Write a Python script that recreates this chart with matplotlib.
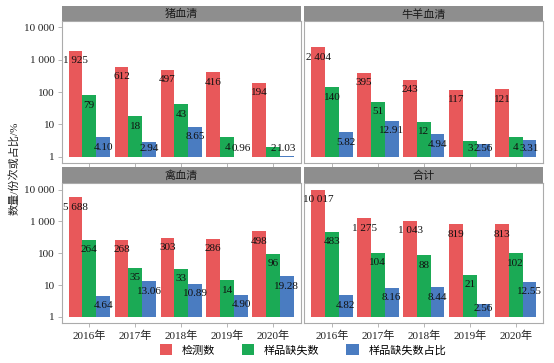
import numpy as np
import matplotlib
matplotlib.use("Agg")
import matplotlib.pyplot as plt
from matplotlib.patches import Patch

plt.rcParams['font.family'] = ['Liberation Serif', 'Noto Sans CJK SC', 'DejaVu Sans']

years = ["2016年", "2017年", "2018年", "2019年", "2020年"]
panels = ["猪血清", "牛羊血清", "禽血清", "合计"]
series = ["检测数", "样品缺失数", "样品缺失数占比"]
colors = ["#E8585A", "#1BAA55", "#4A7CC1"]

tested = {
    "猪血清": [1925, 612, 497, 416, 194],
    "牛羊血清": [2404, 395, 243, 117, 121],
    "禽血清": [5688, 268, 303, 286, 498],
    "合计": [10017, 1275, 1043, 819, 813],
}
missing = {
    "猪血清": [79, 18, 43, 4, 2],
    "牛羊血清": [140, 51, 12, 3, 4],
    "禽血清": [264, 35, 33, 14, 96],
    "合计": [483, 104, 88, 21, 102],
}
ratio = {
    "猪血清": [4.10, 2.94, 8.65, 0.96, 1.03],
    "牛羊血清": [5.82, 12.91, 4.94, 2.56, 3.31],
    "禽血清": [4.64, 13.06, 10.89, 4.90, 19.28],
    "合计": [4.82, 8.16, 8.44, 2.56, 12.55],
}
yticks = [1, 10, 100, 1000, 10000]
ytick_labels = ["1", "10", "100", "1 000", "10 000"]

W, H = 554, 363
fig = plt.figure(figsize=(W / 100, H / 100), dpi=100)

def fx(px):
    return px / W

def fy(py):
    return 1 - py / H

col_x = [(61.7, 300.7), (304.3, 543.3)]
row_y = [((6, 21), (21, 163.3)), ((167.3, 183.3), (183.3, 323.3))]

border = "#ABABAB"
strip_col = "#8E8E8E"
ylo, yhi = 10 ** -0.2, 10 ** 4.2
x = np.arange(len(years))
bw = 0.3

def fmt_int(v):
    return f"{v:,}".replace(",", " ")

for i, name in enumerate(panels):
    r, c = divmod(i, 2)
    x0, x1 = col_x[c]
    (s0, s1), (p0, p1) = row_y[r]
    ax = fig.add_axes([fx(x0), fy(p1), fx(x1 - x0), (p1 - p0) / H])
    sax = fig.add_axes([fx(x0), fy(s1), fx(x1 - x0), (s1 - s0) / H])
    sax.set_facecolor(strip_col)
    sax.set_xticks([]); sax.set_yticks([])
    for sp in sax.spines.values():
        sp.set_visible(False)
    sax.text(0.5, 0.45, name, ha="center", va="center", fontsize=8, color="#1a1a1a",
             transform=sax.transAxes)

    ax.set_yscale("log")
    ax.set_ylim(ylo, yhi)
    ax.set_xlim(-0.6, len(years) - 0.4)
    decade_px = (p1 - p0) / 4.4
    data = [tested[name], missing[name], ratio[name]]
    for k, (vals, col) in enumerate(zip(data, colors)):
        vals = np.array(vals, dtype=float)
        xs = x + (k - 1) * bw
        ax.bar(xs, vals - 1, bottom=1, width=bw, color=col, linewidth=0)
        for xi, v in zip(xs, vals):
            lab = fmt_int(int(v)) if k < 2 else f"{v:.2f}"
            h = np.log10(v) * decade_px
            off = -10 if h - 10 >= 8 else 8 - h
            ax.annotate(lab, (xi, v), xytext=(0, off * 72 / 100), textcoords="offset points",
                        ha="center", va="center", fontsize=8, color="#111111")
    for sp in ax.spines.values():
        sp.set_color(border)
        sp.set_linewidth(0.8)
    ax.tick_params(axis="both", colors=border, length=3, width=0.6, labelcolor="#222222",
                   labelsize=8, pad=2)
    ax.minorticks_off()
    ax.set_xticks(x)
    if r == 1:
        ax.set_xticklabels(years)
    else:
        ax.set_xticklabels([])
    if c == 0:
        ax.set_yticks(yticks)
        ax.set_yticklabels(ytick_labels)
    else:
        ax.set_yticks([])

fig.text(fx(14), fy(168), "数量/份次或占比/%", rotation=90, ha="center", va="center",
         fontsize=8, color="#222222")

handles = [Patch(facecolor=cc, edgecolor="none") for cc in colors]
fig.legend(handles, series, loc="center", bbox_to_anchor=(fx(303), fy(350)), ncol=3,
           frameon=False, fontsize=8, handlelength=1.1, handleheight=1.1,
           columnspacing=2.4, handletextpad=0.9)

fig.savefig("out.png", dpi=100)
